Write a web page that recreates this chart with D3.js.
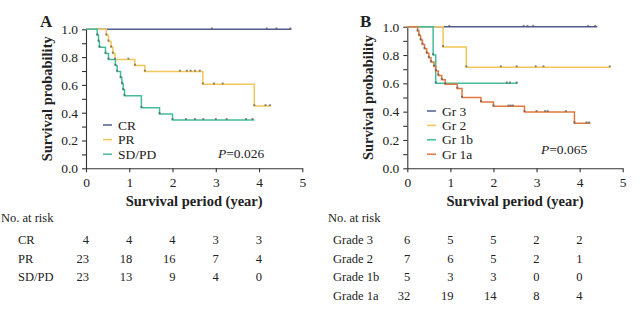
<!DOCTYPE html>
<html>
<head>
<meta charset="utf-8">
<script src="https://d3js.org/d3.v7.min.js"></script>
<style>
  body { margin: 0; background: #fff; }
  svg { display: block; }
  text { font-family: "Liberation Serif", "Times New Roman", serif; fill: #222; }
  .axis path, .axis line { stroke: #333; stroke-width: 1.1; }
  .axis text { font-size: 13.5px; fill: #222; font-family: "Liberation Serif", serif; }
</style>
</head>
<body>
<svg id="chart" width="640" height="325"></svg>
<script>
  // Kaplan-Meier steps: [time (year), survival after the drop]
  var crSteps = [];
  var crCensor = [2.91, 4.18, 4.40, 4.72];
  var crEnd = 4.75;

  var prSteps = [[0.47, 0.957], [0.52, 0.913], [0.58, 0.870], [0.62, 0.826], [0.67, 0.783],
                 [1.13, 0.739], [1.36, 0.696], [2.70, 0.604], [3.89, 0.448]];
  var prCensor = [0.98, 2.17, 2.33, 2.42, 2.52, 2.63, 2.96, 3.16, 4.15, 4.25];
  var prEnd = 4.27;

  var sdSteps = [[0.26, 0.957], [0.29, 0.913], [0.31, 0.870], [0.45, 0.826], [0.52, 0.783],
                 [0.68, 0.739], [0.72, 0.696], [0.80, 0.652], [0.83, 0.609], [0.86, 0.565],
                 [0.89, 0.522], [1.28, 0.435], [1.70, 0.391], [2.00, 0.348]];
  var sdCensor = [2.31, 2.52, 2.71, 3.00, 3.25, 3.70, 3.85];
  var sdEnd = 3.89;

  var gr3Steps = [];
  var gr3Censor = [0.975, 2.70, 2.79, 2.92, 4.20, 4.36];
  var gr3End = 4.41;

  var gr2Steps = [[0.83, 0.857], [1.37, 0.714]];
  var gr2Censor = [2.17, 2.54, 2.98, 3.16, 4.70];
  var gr2End = 4.72;

  var gr1bSteps = [[0.60, 0.80], [0.66, 0.60]];
  var gr1bCensor = [2.31, 2.38, 2.54];
  var gr1bEnd = 2.56;

  var gr1aSteps = [[0.24, 0.969], [0.27, 0.938], [0.31, 0.906], [0.35, 0.875], [0.40, 0.844],
                   [0.45, 0.813], [0.50, 0.781], [0.55, 0.750], [0.62, 0.719], [0.66, 0.688],
                   [0.72, 0.656], [0.80, 0.625], [0.88, 0.594], [1.16, 0.563], [1.27, 0.500],
                   [1.71, 0.469], [2.00, 0.4375], [2.72, 0.398], [3.88, 0.318]];
  var gr1aCensor = [2.35, 2.40, 2.45, 3.00, 3.20, 3.26, 3.68, 4.16, 4.22];
  var gr1aEnd = 4.25;

  // numbers at risk at 0,1,2,3,4 years
  var riskYears = [0, 1, 2, 3, 4];
  var riskCR = [4, 4, 4, 3, 3];
  var riskPR = [23, 18, 16, 7, 4];
  var riskSD = [23, 13, 9, 4, 0];
  var riskGr3 = [6, 5, 5, 2, 2];
  var riskGr2 = [7, 6, 5, 2, 1];
  var riskGr1b = [5, 3, 3, 0, 0];
  var riskGr1a = [32, 19, 14, 8, 4];

  var xTicks = [0, 1, 2, 3, 4, 5];
  var yTicks = [0, 0.1, 0.2, 0.3, 0.4, 0.5, 0.6, 0.7, 0.8, 0.9, 1.0];

  var colBlue = '#4e5f8e';
  var colYellow = '#f2c75a';
  var colTeal = '#45bd9c';
  var colOrange = '#e27a3e';
  var markColor = '#555';

  var svg = d3.select('#chart');

  function survivalAt(steps, t) {
    var s = 1;
    steps.forEach(function (d) { if (d[0] <= t) s = d[1]; });
    return s;
  }

  function drawPanel(opt) {
    var x = d3.scaleLinear().domain([0, 5]).range(opt.xRange);
    var y = d3.scaleLinear().domain([0, 1]).range(opt.yRange);
    var g = svg.append('g');

    g.append('g')
      .attr('class', 'axis')
      .attr('transform', 'translate(0,' + opt.yRange[0] + ')')
      .call(d3.axisBottom(x).tickValues(xTicks).tickFormat(d3.format('d'))
        .tickSize(4).tickSizeOuter(0).tickPadding(5));

    g.append('g')
      .attr('class', 'axis')
      .attr('transform', 'translate(' + opt.xRange[0] + ',0)')
      .call(d3.axisLeft(y).tickValues(yTicks).tickSize(4).tickSizeOuter(0).tickPadding(4)
        .tickFormat(function (d) {
          return Math.round(d * 10) % 2 === 0 ? d3.format('.1f')(d) : '';
        }));

    // curves
    opt.series.forEach(function (s) {
      var pts = [[0, 1]];
      s.steps.forEach(function (d) {
        pts.push([d[0], pts[pts.length - 1][1]]);
        pts.push([d[0], d[1]]);
      });
      pts.push([s.end, pts[pts.length - 1][1]]);

      g.append('path')
        .datum(pts)
        .attr('fill', 'none')
        .attr('stroke', s.color)
        .attr('stroke-width', 1.5)
        .attr('d', d3.line().x(function (d) { return x(d[0]); }).y(function (d) { return y(d[1]); }));
    });

    // event and censor marks
    opt.series.forEach(function (s) {
      var marks = s.steps.map(function (d) { return [d[0], d[1]]; })
        .concat(s.censor.map(function (t) { return [t, survivalAt(s.steps, t)]; }));
      g.selectAll(null)
        .data(marks)
        .enter()
        .append('rect')
        .attr('x', function (d) { return x(d[0]) - 1; })
        .attr('y', function (d) { return y(d[1]) - 1.8; })
        .attr('width', 2)
        .attr('height', 1.8)
        .attr('fill', markColor)
        .attr('opacity', 0.7);
    });

    // legend
    opt.series.forEach(function (s, i) {
      var ly = opt.legendY + i * opt.legendGap;
      g.append('line')
        .attr('x1', opt.legendX).attr('x2', opt.legendX + 9)
        .attr('y1', ly).attr('y2', ly)
        .attr('stroke', s.color).attr('stroke-width', 1.5);
      g.append('text')
        .attr('x', opt.legendX + 15).attr('y', ly + 4.5)
        .attr('font-size', '13.5px')
        .text(s.name);
    });

    var p = g.append('text')
      .attr('x', opt.pX).attr('y', opt.pY)
      .attr('font-size', '13.5px');
    p.append('tspan').attr('font-style', 'italic').text('P');
    p.append('tspan').text('=' + opt.pValue);

    g.append('text')
      .attr('x', opt.letterX).attr('y', 27)
      .attr('font-size', '17px').attr('font-weight', 'bold')
      .text(opt.letter);

    g.append('text')
      .attr('transform', 'translate(' + opt.yLabelX + ',' + ((opt.yRange[0] + opt.yRange[1]) / 2) + ') rotate(-90)')
      .attr('text-anchor', 'middle')
      .attr('font-size', '14.5px').attr('font-weight', 'bold')
      .text('Survival probability');

    g.append('text')
      .attr('x', (opt.xRange[0] + opt.xRange[1]) / 2).attr('y', 206)
      .attr('text-anchor', 'middle')
      .attr('font-size', '14.5px').attr('font-weight', 'bold')
      .text('Survival period (year)');

    // numbers at risk
    g.append('text')
      .attr('x', opt.riskTitleX).attr('y', 222)
      .attr('font-size', '12.5px')
      .text('No. at risk');

    opt.risk.forEach(function (r, i) {
      var ry = 244 + i * 18.7;
      g.append('text')
        .attr('x', opt.riskLabelX).attr('y', ry)
        .attr('font-size', '12.5px')
        .text(r.label);
      g.selectAll(null)
        .data(r.values)
        .enter()
        .append('text')
        .attr('x', function (d, j) { return x(riskYears[j]) + 3; })
        .attr('y', ry)
        .attr('text-anchor', 'end')
        .attr('font-size', '12.5px')
        .text(function (d) { return d; });
    });
  }

  drawPanel({
    letter: 'A', letterX: 40, yLabelX: 52,
    xRange: [86, 302.3], yRange: [168.3, 29.3],
    legendX: 103, legendY: 125, legendGap: 14.6,
    pX: 218, pY: 158, pValue: '0.026',
    riskTitleX: 1, riskLabelX: 18,
    series: [
      { name: 'CR', color: colBlue, steps: crSteps, censor: crCensor, end: crEnd },
      { name: 'PR', color: colYellow, steps: prSteps, censor: prCensor, end: prEnd },
      { name: 'SD/PD', color: colTeal, steps: sdSteps, censor: sdCensor, end: sdEnd }
    ],
    risk: [
      { label: 'CR', values: riskCR },
      { label: 'PR', values: riskPR },
      { label: 'SD/PD', values: riskSD }
    ]
  });

  drawPanel({
    letter: 'B', letterX: 360, yLabelX: 373,
    xRange: [407.3, 622.7], yRange: [168.3, 26.7],
    legendX: 427, legendY: 111, legendGap: 14.4,
    pX: 541, pY: 154, pValue: '0.065',
    riskTitleX: 328, riskLabelX: 333,
    series: [
      { name: 'Gr 3', color: colBlue, steps: gr3Steps, censor: gr3Censor, end: gr3End },
      { name: 'Gr 2', color: colYellow, steps: gr2Steps, censor: gr2Censor, end: gr2End },
      { name: 'Gr 1b', color: colTeal, steps: gr1bSteps, censor: gr1bCensor, end: gr1bEnd },
      { name: 'Gr 1a', color: colOrange, steps: gr1aSteps, censor: gr1aCensor, end: gr1aEnd }
    ],
    risk: [
      { label: 'Grade 3', values: riskGr3 },
      { label: 'Grade 2', values: riskGr2 },
      { label: 'Grade 1b', values: riskGr1b },
      { label: 'Grade 1a', values: riskGr1a }
    ]
  });
</script>
</body>
</html>
